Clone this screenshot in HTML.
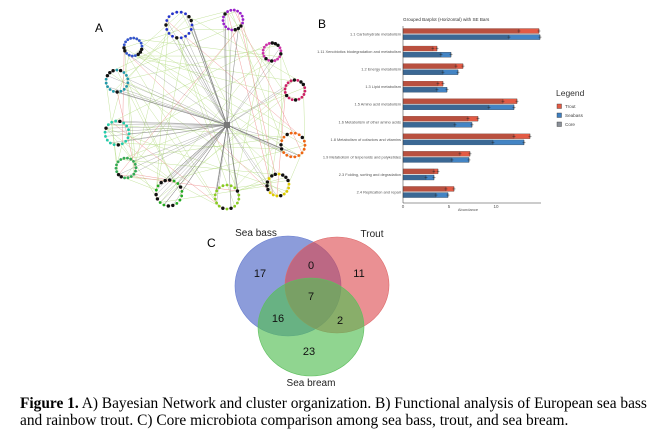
<!DOCTYPE html>
<html><head><meta charset="utf-8">
<style>
html,body{margin:0;padding:0;background:#fff;width:665px;height:447px;overflow:hidden}
svg{position:absolute;left:0;top:0}
.cap{position:absolute;left:20px;top:395px;width:645px;font-family:"Liberation Serif",serif;font-size:15.4px;line-height:17px;color:#000;white-space:nowrap}
</style></head><body>
<svg id="s" width="665" height="447" viewBox="0 0 665 447" font-family="Liberation Sans, sans-serif">
<g id="net"></g>
<text x="95" y="32" font-size="12">A</text>
<text x="318" y="28" font-size="12">B</text>
<text x="403" y="21" font-size="4.6" fill="#333">Grouped Barplot (Horizontal) with SE Bars</text>
<g id="bars"></g>
<line x1="403" y1="26" x2="403" y2="203" stroke="#333" stroke-width="0.5"/>
<line x1="403" y1="203" x2="541" y2="203" stroke="#333" stroke-width="0.5"/>
<g font-size="4.5" fill="#555" text-anchor="middle">
<text x="403" y="208">0</text><text x="449" y="208">5</text><text x="496" y="208">10</text>
<text x="468" y="211" font-size="4">Abundance</text></g>
<text x="556" y="96" font-size="8.5" fill="#333">Legend</text>
<rect x="557" y="104" width="4.5" height="4.5" fill="#e35b45" stroke="#333" stroke-width="0.4"/>
<rect x="557" y="113" width="4.5" height="4.5" fill="#3f7fc0" stroke="#333" stroke-width="0.4"/>
<rect x="557" y="122" width="4.5" height="4.5" fill="#8a9099" stroke="#333" stroke-width="0.4"/>
<g font-size="4.6" fill="#444"><text x="565" y="108">Trout</text><text x="565" y="117">Seabass</text><text x="565" y="126">Core</text></g>
<text x="207" y="247" font-size="12">C</text>
<ellipse cx="288" cy="286" rx="53" ry="50" fill="rgba(70,95,195,0.62)" stroke="#6a7fd0" stroke-width="0.6"/>
<ellipse cx="337" cy="285" rx="52" ry="48" fill="rgba(220,70,75,0.6)" stroke="#dd6a6a" stroke-width="0.6"/>
<ellipse cx="311" cy="327" rx="53" ry="49" fill="rgba(85,190,85,0.65)" stroke="#5fbf5f" stroke-width="0.6"/>
<g font-size="10" fill="#222" text-anchor="middle">
<text x="256" y="236">Sea bass</text><text x="372" y="237">Trout</text><text x="311" y="386">Sea bream</text></g>
<g font-size="11" fill="#111" text-anchor="middle">
<text x="260" y="277">17</text><text x="311" y="269">0</text><text x="359" y="277">11</text>
<text x="311" y="300">7</text><text x="278" y="322">16</text><text x="340" y="324">2</text><text x="309" y="355">23</text></g>
</svg>
<div class="cap"><b>Figure 1.</b> A) Bayesian Network and cluster organization. B) Functional analysis of European sea bass<br>and rainbow trout. C) Core microbiota comparison among sea bass, trout, and sea bream.</div>
<script>
var NS="http://www.w3.org/2000/svg";
function el(p,t,a){var e=document.createElementNS(NS,t);for(var k in a)e.setAttribute(k,a[k]);p.appendChild(e);return e;}
var bg=document.getElementById('bars');
var rows=[["1.1 Carbohydrate metabolism",539,540,519,509],
["1.11 Xenobiotics biodegradation and metabolism",437,451,433,441],
["1.2 Energy metabolism",463,458,456,443],
["1.3 Lipid metabolism",443,447,438,437],
["1.5 Amino acid metabolism",517,514,503,489],
["1.6 Metabolism of other amino acids",478,472,468,455],
["1.8 Metabolism of cofactors and vitamins",530,524,514,493],
["1.9 Metabolism of terpenoids and polyketides",470,469,460,452],
["2.3 Folding, sorting and degradation",438,434,434,426],
["2.4 Replication and repair",454,448,446,436]];
for(var i=0;i<rows.length;i++){var r=rows[i];var cy=34+i*17.55;
el(bg,'text',{x:401,y:cy+1.5,'font-size':3.9,fill:'#555','text-anchor':'end'}).textContent=r[0];
el(bg,'rect',{x:403,y:cy-5.5,width:r[1]-403,height:5,fill:'#e35b45',stroke:'#555','stroke-width':0.3});
el(bg,'rect',{x:403,y:cy-5.5,width:r[3]-403,height:5,fill:'#b9503f'});
el(bg,'rect',{x:403,y:cy+0.6,width:r[2]-403,height:5,fill:'#4384c4',stroke:'#333','stroke-width':0.3});
el(bg,'rect',{x:403,y:cy+0.6,width:r[4]-403,height:5,fill:'#3b6894'});
[[r[1],cy-3],[r[2],cy+3.1],[r[3],cy-3],[r[4],cy+3.1]].forEach(function(p){
el(bg,'line',{x1:p[0]-1.5,y1:p[1],x2:p[0]+1.5,y2:p[1],stroke:'#222','stroke-width':0.4});
el(bg,'line',{x1:p[0],y1:p[1]-2,x2:p[0],y2:p[1]+2,stroke:'#222','stroke-width':0.4});});
}
var ng=document.getElementById('net');
var hub=[227,125];
var cl=[[179,25,13,'#2233cc'],[233,20,10,'#9922cc'],[133,47,9,'#3355cc'],[272,52,9,'#cc33aa'],
[117,81,11,'#2299aa'],[295,90,10,'#cc2266'],[117,133,12,'#22ccaa'],[293,145,12,'#ee6611'],
[126,168,10,'#33aa55'],[278,185,11,'#ddcc00'],[169,193,13,'#22aa22'],[227,197,12,'#88cc22']];
var seed=7;function rnd(){seed=(seed*16807)%2147483647;return seed/2147483647;}
var pts=[];var N=18;
cl.forEach(function(c,ci){pts[ci]=[];for(var j=0;j<N;j++){var a=j/N*6.283+ci;pts[ci].push([c[0]+c[2]*Math.cos(a),c[1]+c[2]*Math.sin(a)]);}});
for(var k=0;k<90;k++){var a=Math.floor(rnd()*12),b=Math.floor(rnd()*12);if(a==b)continue;
var p=pts[a][Math.floor(rnd()*N)],q=pts[b][Math.floor(rnd()*N)];
el(ng,'line',{x1:p[0],y1:p[1],x2:q[0],y2:q[1],stroke:'#b8dd88','stroke-width':0.5,opacity:0.8});}
for(var k=0;k<14;k++){var a=Math.floor(rnd()*12),b=Math.floor(rnd()*12);if(a==b)continue;
var p=pts[a][Math.floor(rnd()*N)],q=pts[b][Math.floor(rnd()*N)];
el(ng,'line',{x1:p[0],y1:p[1],x2:q[0],y2:q[1],stroke:'#f0a0a0','stroke-width':0.5});}
var cnt=[12,6,1,2,7,2,9,8,3,2,16,12];
cl.forEach(function(c,ci){for(var j=0;j<cnt[ci];j++){var p=pts[ci][Math.floor(rnd()*N)];
el(ng,'line',{x1:hub[0],y1:hub[1],x2:p[0],y2:p[1],stroke:'#777','stroke-width':0.4,opacity:0.7});}});
cl.forEach(function(c,ci){el(ng,'circle',{cx:c[0],cy:c[1],r:c[2],fill:'none',stroke:'#e8b0a0','stroke-width':0.5});
pts[ci].forEach(function(p,j){var blk=rnd()<0.3;el(ng,'circle',{cx:p[0],cy:p[1],r:blk?1.7:1.4,fill:blk?'#111':c[3]});});});
el(ng,'rect',{x:hub[0]-3,y:hub[1]-3,width:6,height:6,fill:'#777'});
</script>
</body></html>
